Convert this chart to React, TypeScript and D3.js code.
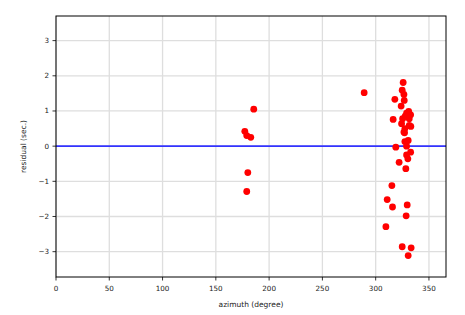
import React from "react";
import * as d3 from "d3";

const azimuth = [
  185.6, 177.2, 179.0, 182.8, 180.0, 179.0,
  289.2,
  325.8, 324.9, 326.5, 318.0, 326.8, 323.9, 331.0, 332.8, 329.0, 316.4, 325.3, 331.5, 327.7,
  324.3, 331.5, 327.4, 327.1, 333.0, 326.5, 330.5, 327.4, 318.9, 329.0, 332.8, 329.0, 330.2,
  322.0, 328.3, 315.2, 310.8, 315.8, 329.6, 328.6, 309.6, 324.9, 333.3, 330.5,
];
const residual = [
  1.05, 0.42, 0.30, 0.25, -0.75, -1.29,
  1.52,
  1.81, 1.59, 1.47, 1.33, 1.30, 1.14, 0.99, 0.89, 0.94, 0.76, 0.78, 0.78, 0.85,
  0.64, 0.59, 0.50, 0.38, 0.56, 0.40, 0.16, 0.13, -0.03, 0.0, -0.17, -0.25, -0.36,
  -0.46, -0.64, -1.12, -1.52, -1.73, -1.67, -1.98, -2.29, -2.86, -2.89, -3.11,
];
const xTicks = [0, 50, 100, 150, 200, 250, 300, 350];
const yTicks = [-3, -2, -1, 0, 1, 2, 3];

export default function App() {
  const W = 465, H = 315;
  const left = 56, right = 446, top = 16, bottom = 277;
  const x = d3.scaleLinear().domain([0, 366]).range([left, right]);
  const y = d3.scaleLinear().domain([-3.72, 3.7]).range([bottom, top]);
  const font = "DejaVu Sans, sans-serif";
  return (
    <svg width={W} height={H} style={{ position: "absolute", left: 0, top: 0 }}>
      <rect x={0} y={0} width={W} height={H} fill="#fff" />
      {xTicks.map((t) => (
        <line key={"gx" + t} x1={x(t)} x2={x(t)} y1={top} y2={bottom} stroke="#dedede" strokeWidth={1.3} />
      ))}
      {yTicks.map((t) => (
        <line key={"gy" + t} x1={left} x2={right} y1={y(t)} y2={y(t)} stroke="#dedede" strokeWidth={1.3} />
      ))}
      <line x1={left} x2={right} y1={y(0)} y2={y(0)} stroke="#3333ff" strokeWidth={1.6} />
      {azimuth.map((a, i) => (
        <circle key={i} cx={x(a)} cy={y(residual[i])} r={3.4} fill="#ff0000" />
      ))}
      <rect x={left} y={top} width={right - left} height={bottom - top} fill="none" stroke="#000" strokeWidth={1} />
      {xTicks.map((t) => (
        <g key={"tx" + t}>
          <line x1={x(t)} x2={x(t)} y1={bottom} y2={bottom + 3.5} stroke="#000" strokeWidth={0.8} />
          <text x={x(t)} y={bottom + 14} fontSize={7.2} fontFamily={font} textAnchor="middle" fill="#222">
            {t}
          </text>
        </g>
      ))}
      {yTicks.map((t) => (
        <g key={"ty" + t}>
          <line x1={left} x2={left - 3.5} y1={y(t)} y2={y(t)} stroke="#000" strokeWidth={0.8} />
          <text x={left - 7} y={y(t) + 2.5} fontSize={7.2} fontFamily={font} textAnchor="end" fill="#222">
            {t < 0 ? "\u2212" + Math.abs(t) : t}
          </text>
        </g>
      ))}
      <text x={(left + right) / 2} y={307} fontSize={7.5} fontFamily={font} textAnchor="middle" fill="#222">
        azimuth (degree)
      </text>
      <text
        transform={`translate(26,${(top + bottom) / 2}) rotate(-90)`}
        fontSize={7.5}
        fontFamily={font}
        textAnchor="middle"
        fill="#222"
      >
        residual (sec.)
      </text>
    </svg>
  );
}
